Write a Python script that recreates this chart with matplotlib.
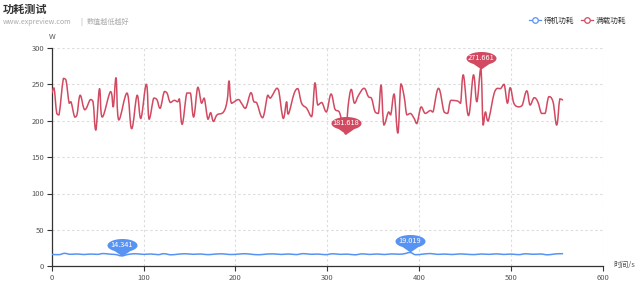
import matplotlib
matplotlib.use('Agg')
import matplotlib.pyplot as plt
from matplotlib.path import Path
from matplotlib.patches import PathPatch
from matplotlib.lines import Line2D
import numpy as np

plt.rcParams['font.family'] = ['Noto Sans CJK SC', 'DejaVu Sans']

title = '功耗测试'
subtitle_site = 'www.expreview.com'
subtitle_note = '数值越低越好'
series_names = ['待机功耗', '满载功耗']
x_label = '时间/s'
y_label = 'W'
x_ticks = [0, 100, 200, 300, 400, 500, 600]
y_ticks = [0, 50, 100, 150, 200, 250, 300]

idle_x = [0, 8, 14, 20, 28, 35, 42, 50, 56, 64, 70, 76, 84, 92, 100, 108, 116, 122, 130, 138,
          146, 154, 162, 170, 178, 186, 194, 202, 210, 218, 226, 234, 242, 250, 258, 266, 274, 282, 290, 298,
          306, 314, 322, 330, 338, 346, 354, 362, 370, 378, 384, 390, 396, 404, 412, 420, 428, 436, 444, 452,
          460, 468, 476, 484, 492, 500, 508, 516, 524, 532, 540, 548, 556]
idle_y = [16.3, 16.0, 17.8, 16.5, 16.9, 16.2, 16.8, 16.4, 17.5, 16.6, 16.1, 14.341, 16.5, 17.2, 16.4, 16.9, 16.0, 17.3, 15.8, 16.7,
          17.2, 16.5, 16.9, 16.0, 16.8, 17.1, 16.2, 16.6, 17.3, 16.4, 15.9, 16.8, 17.0, 16.3, 16.9, 16.1, 17.4, 16.5, 16.8, 16.0,
          17.2, 16.4, 16.7, 15.8, 17.1, 16.3, 16.9, 16.2, 17.0, 16.6, 17.3, 19.019, 15.9, 16.7, 17.5, 16.4, 16.8, 16.2, 17.0, 16.5,
          16.1, 16.9, 16.4, 17.1, 16.3, 16.8, 16.0, 17.2, 16.5, 16.9, 15.8, 17.0, 17.3]

load_x = [0, 2.5, 5.5, 8, 12.7, 15.5, 19, 21, 25, 27.5, 31, 36, 42, 45, 48, 52, 55, 64, 67, 70,
          73, 82, 87, 93, 97, 103, 106, 111, 114.5, 118, 122.5, 125.5, 129, 133.5, 137, 139, 142, 147, 151, 154.5,
          159, 163, 166, 170, 173, 176, 180, 187, 191, 193, 195.6, 203, 206.5, 211, 216.7, 220, 223, 229.5, 235, 238,
          244.7, 247, 252, 255.6, 257.5, 264, 268, 272, 277.5, 283, 286.5, 289.5, 294, 299, 304, 308.4, 313, 320, 322.5, 326,
          329.5, 334, 340, 344.7, 348, 352, 355.6, 358.5, 361.5, 366.5, 369, 372.7, 376.7, 380, 383.6, 386.5, 390.5, 394.5, 397.5, 402,
          406.5, 412, 415, 421, 427, 431, 434.4, 441.7, 445, 448, 453.6, 459, 462.7, 467, 469.5, 472, 475, 481.5, 485, 488.5,
          492.4, 496, 499, 503, 508, 512, 517, 520.6, 525, 529, 533, 537, 541, 545.6, 549.6, 553, 556]
load_y = [237.6, 245, 210, 208, 258, 256, 224, 226, 205, 208, 235, 215, 229, 226, 187, 244, 205, 240, 219, 259,
          201, 238, 189, 235, 203, 250, 202, 231, 229, 217, 240, 238, 225, 228, 226, 230, 195, 238, 238, 205,
          246, 224, 231, 202, 211, 199, 208, 212, 228, 254.6, 224, 229, 224, 217, 238.5, 226, 225, 204, 235, 231,
          244.5, 242, 203, 226, 209, 238, 244, 224, 217, 205.5, 252, 221.5, 225, 212, 236.7, 215.6, 212, 181.618, 219, 243,
          224, 235, 244.5, 233, 231, 212, 210, 249, 194, 212, 208, 236.7, 183, 250.5, 233, 208, 210, 203, 196, 219,
          210, 214, 212, 244.5, 212, 210, 228, 227, 224, 263, 207, 263, 226, 271.661, 194, 212, 199.5, 237.6, 244.5, 244,
          250, 224, 245.4, 224, 219, 221, 241, 221.5, 231.6, 226, 210, 210, 233, 226, 194, 230, 228.5]

BLUE = '#5793f3'
RED = '#d14a61'

W, H = 640, 284
fig = plt.figure(figsize=(W / 100, H / 100), dpi=100)
L, R, T, B = 51.7, 603.0, 47.9, 266.3
ax = fig.add_axes([L / W, 1 - B / H, (R - L) / W, (B - T) / H])


def smooth_line(xs, ys, color, k=0.2):
    """Smoothed line (bezier through every data point), control points kept within each segment."""
    p = np.column_stack([xs, ys]).astype(float)
    n = len(p)
    verts = [tuple(p[0])]
    codes = [Path.MOVETO]
    for i in range(n - 1):
        p0 = p[max(i - 1, 0)]
        p1, p2 = p[i], p[i + 1]
        p3 = p[min(i + 2, n - 1)]
        c1 = p1 + (p2 - p0) * k
        c2 = p2 - (p3 - p1) * k
        lo, hi = min(p1[1], p2[1]), max(p1[1], p2[1])
        c1[1] = np.clip(c1[1], lo, hi)
        c2[1] = np.clip(c2[1], lo, hi)
        c1[0] = np.clip(c1[0], p1[0], p2[0])
        c2[0] = np.clip(c2[0], p1[0], p2[0])
        verts += [tuple(c1), tuple(c2), tuple(p2)]
        codes += [Path.CURVE4] * 3
    ax.add_patch(PathPatch(Path(verts, codes), facecolor='none', edgecolor=color,
                           lw=1.1, zorder=3, capstyle='round', joinstyle='round'))


smooth_line(idle_x, idle_y, BLUE)
smooth_line(load_x, load_y, RED)

ax.set_xlim(0, 600)
ax.set_ylim(0, 300)
ax.set_xticks(x_ticks)
ax.set_yticks(y_ticks)
ax.grid(True, color='#dddddd', linestyle=(0, (2.2, 2.2)), lw=0.8, zorder=0)
for s in ['top', 'right']:
    ax.spines[s].set_visible(False)
for s in ['left', 'bottom']:
    ax.spines[s].set_color('#333333')
    ax.spines[s].set_linewidth(0.9)
ax.tick_params(direction='out', length=3.5, width=0.8, color='#333333',
               labelsize=5.5, labelcolor='#555555', pad=2)

# pin marker (tip at the data point, balloon above)
a_, b_, cy_ = 15, 6.5, 11
th = np.radians(np.linspace(-58, 238, 80))
verts = [(0, 0)] + list(zip(a_ * np.cos(th), cy_ + b_ * np.sin(th))) + [(0, 0)]
codes = [Path.MOVETO] + [Path.LINETO] * (len(verts) - 2) + [Path.CLOSEPOLY]
pin = Path(verts, codes)
ms = 2 * (cy_ + b_) * 72 / 100


def mark(xs, ys, idx, color):
    x, y = xs[idx], ys[idx]
    ax.plot([x], [y], marker=pin, ms=ms, color=color, mew=0, zorder=6, clip_on=False)
    ax.annotate(f'{y:.3f}', (x, y), xytext=(0, cy_ * 0.72), textcoords='offset points',
                ha='center', va='center', color='white', fontsize=5.3, zorder=7)


for xs, ys, c in [(idle_x, idle_y, BLUE), (load_x, load_y, RED)]:
    mark(xs, ys, int(np.argmax(ys)), c)
    mark(xs, ys, int(np.argmin(ys)), c)

fig.text(3 / W, 1 - 9 / H, title, fontsize=8, fontweight='bold', color='#333333', ha='left', va='center')
fig.text(3 / W, 1 - 21.7 / H, subtitle_site, fontsize=5.1, color='#aaaaaa', ha='left', va='center')
fig.text(80 / W, 1 - 21.7 / H, '|', fontsize=5.1, color='#aaaaaa', ha='left', va='center')
fig.text(87 / W, 1 - 21.7 / H, subtitle_note, fontsize=5.1, color='#aaaaaa', ha='left', va='center')
fig.text(L / W, 1 - 37 / H, y_label, fontsize=5.5, color='#555555', ha='center', va='center')
fig.text(613 / W, 1 - 265 / H, x_label, fontsize=5.5, color='#555555', ha='left', va='center')

handles = [Line2D([], [], color=c, marker='o', markerfacecolor='white', markersize=4, lw=0.9, mew=0.9)
           for c in (BLUE, RED)]
fig.legend(handles, series_names, loc='center right', bbox_to_anchor=(626 / W, 1 - 20.5 / H), ncol=2,
           frameon=False, fontsize=5.5, labelcolor='#333333', handlelength=1.6, handletextpad=0.3,
           columnspacing=0.9, borderpad=0, borderaxespad=0)

fig.savefig('out.png', dpi=100)
